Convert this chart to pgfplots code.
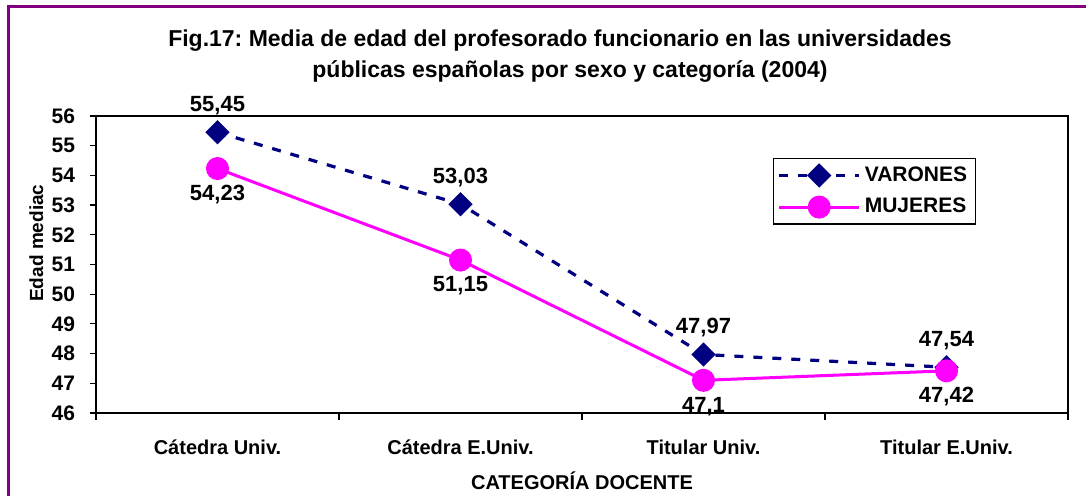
\documentclass[border=0pt]{standalone}
\usepackage{fontspec}
\setmainfont{Liberation Sans}
\usepackage{pgfplots}
\pgfplotsset{compat=1.18}
\definecolor{varon}{RGB}{0,0,128}
\definecolor{mujer}{RGB}{255,0,255}
\definecolor{marco}{RGB}{128,0,128}
\frenchspacing

\begin{document}
\begin{tikzpicture}
\path[use as bounding box] (0pt,0pt) rectangle (543pt,248pt);
% chart frame (only top and left edges are in the picture)
\draw[marco, line width=1.2pt] (4.25pt,-2pt) -- (4.25pt,244.75pt) -- (546pt,244.75pt);
\node[anchor=base, font=\bfseries\fontsize{11.5}{14}\selectfont] at (280pt,224.5pt)
  {Fig.17: Media de edad del profesorado funcionario en las universidades};
\node[anchor=base, font=\bfseries\fontsize{11.5}{14}\selectfont] at (285pt,209pt)
  {públicas españolas por sexo y categoría (2004)};
\begin{axis}[
  at={(48pt,41.5pt)}, anchor=south west,
  scale only axis, width=486pt, height=148.5pt,
  xmin=-0.5, xmax=3.5, ymin=46, ymax=56,
  ytick={46,...,56},
  xtick={0,1,2,3},
  xticklabels={Cátedra Univ., Cátedra E.Univ., Titular Univ., Titular E.Univ.},
  minor xtick={-0.5,0.5,1.5,2.5,3.5},
  tick align=outside, xtick pos=bottom, ytick pos=left,
  major tick length=3pt, minor tick length=3.5pt,
  tick style={black, line width=0.6pt},
  major x tick style={draw=none},
  axis line style={line width=0.8pt, black},
  after end axis/.code={\draw[black, line width=1pt]
     (rel axis cs:0,0) rectangle (rel axis cs:1,1);},
  /pgf/number format/assume math mode=true,
  yticklabel style={font=\bfseries\fontsize{10.5}{12}\selectfont, xshift=-4pt},
  xticklabel style={font=\bfseries\fontsize{10}{12}\selectfont, yshift=-7pt},
  xlabel={CATEGORÍA DOCENTE},
  ylabel={Edad mediac},
  xlabel style={font=\bfseries\fontsize{10}{12}\selectfont,
                at={(axis description cs:0.5,-0.259)}, anchor=base},
  ylabel style={font=\bfseries\fontsize{9.5}{11}\selectfont,
                at={(axis description cs:-0.0545,0.572)}, anchor=base},
  nodes near coords, point meta=explicit symbolic,
  every node near coord/.append style={font=\bfseries\fontsize{11}{13}\selectfont,
                black, anchor=center},
  legend style={at={(0.6965,0.8586)}, anchor=north west, draw=black,
                line width=0.6pt, font=\bfseries\fontsize{10.5}{12}\selectfont,
                inner xsep=2pt, inner ysep=2pt, row sep=3pt},
  legend cell align=left,
  legend image code/.code={\draw[mark repeat=2, mark phase=2, #1]
     plot coordinates {(0pt,0pt) (20pt,0pt) (40pt,0pt)};},
]
\addplot[color=varon, line width=1.6pt, dash pattern=on 4.5pt off 5pt,
         mark=square*, mark size=3.5pt,
         mark options={solid, rotate=45, fill=varon},
         every node near coord/.append style={yshift=13.5pt}] coordinates {
  (0,55.45) [55,45]
  (1,53.03) [53,03]
  (2,47.97) [47,97]
  (3,47.54) [47,54]
}; \addlegendentry{VARONES}
\addplot[color=mujer, line width=1.5pt, solid,
         mark=*, mark size=5pt, mark options={fill=mujer},
         every node near coord/.append style={yshift=-13pt}] coordinates {
  (0,54.23) [54,23]
  (1,51.15) [51,15]
  (2,47.1)  [47,1]
  (3,47.42) [47,42]
}; \addlegendentry{MUJERES}
\end{axis}
\end{tikzpicture}
\end{document}
